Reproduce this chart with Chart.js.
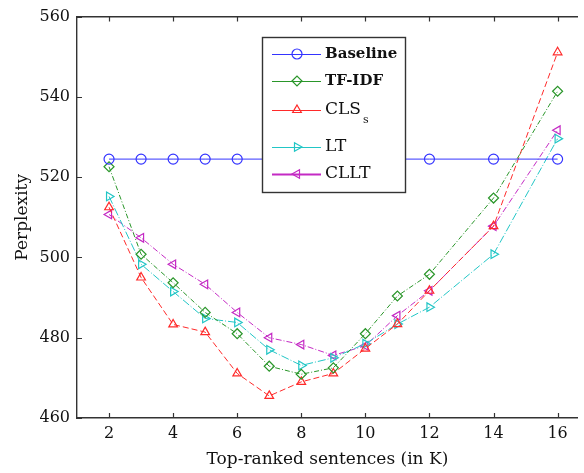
<!DOCTYPE html>
<html>
<head>
<meta charset="utf-8">
<script src="https://cdn.jsdelivr.net/npm/chart.js@4/dist/chart.umd.min.js"></script>
<style>
html,body{margin:0;padding:0;background:#fff;overflow:hidden;}
#wrap{width:584px;height:473px;}
</style>
</head>
<body>
<div id="wrap"><canvas id="c" width="584" height="473"></canvas></div>
<script>
const xValues = [2, 3, 4, 5, 6, 7, 8, 9, 10, 11, 12, 14, 16];
const baselineVals = [524.5, 524.5, 524.5, 524.5, 524.5, 524.5, 524.5, 524.5, 524.5, 524.5, 524.5, 524.5, 524.5];
const tfidfVals = [522.6, 500.8, 493.7, 486.3, 481.0, 472.9, 470.9, 472.5, 481.0, 490.4, 495.8, 514.8, 541.4];
const clsVals = [512.5, 495.0, 483.3, 481.4, 471.1, 465.5, 469.0, 471.1, 477.3, 483.4, 491.7, 507.8, 551.1];
const ltVals = [515.2, 498.3, 491.5, 484.8, 483.8, 477.0, 473.1, 475.0, 478.5, 483.4, 487.6, 500.8, 529.6];
const clltVals = [510.7, 504.9, 498.3, 493.3, 486.3, 480.0, 478.3, 475.6, 478.0, 485.5, 491.7, 507.8, 531.7];
const xTicks = [2, 4, 6, 8, 10, 12, 14, 16];
const yTicks = [460, 480, 500, 520, 540, 560];
const seriesLabels = ['Baseline', 'TF-IDF', 'CLS', 'LT', 'CLLT'];

const SERIF = '"DejaVu Serif", "Liberation Serif", serif';
const pts = vals => xValues.map((x, i) => ({x: x, y: vals[i]}));

function ds(label, vals, color, style, rot, dash, extra) {
  return Object.assign({
    label: label, data: pts(vals), borderColor: color, borderWidth: 1,
    borderDash: dash, pointStyle: style, pointRotation: rot, pointRadius: 5,
    pointBorderColor: color, pointBackgroundColor: 'rgba(0,0,0,0)', pointBorderWidth: 1.2,
    fill: false, tension: 0, pointHoverRadius: 5
  }, extra || {});
}

const datasets = [
  ds(seriesLabels[0], baselineVals, '#3434ff', 'circle', 0, [], {bold: true}),
  ds(seriesLabels[1], tfidfVals, '#2a962a', 'rectRot', 0, [5, 2, 1, 2], {bold: true}),
  ds(seriesLabels[2], clsVals, '#ff2a2a', 'triangle', 0, [6, 3], {sub: 's'}),
  ds(seriesLabels[3], ltVals, '#22c6c6', 'triangle', 90, [8, 2, 1, 2]),
  ds(seriesLabels[4], clltVals, '#c42ac4', 'triangle', -90, [6, 2, 1, 2], {legendWidth: 2.2})
];

const tickPlugin = {
  id: 'inTicks',
  afterDatasetsDraw(chart) {
    const ctx = chart.ctx, a = chart.chartArea;
    const xs = chart.scales.x, ys = chart.scales.y;
    ctx.save();
    ctx.strokeStyle = '#333';
    ctx.lineWidth = 1.2;
    ctx.beginPath();
    xTicks.forEach(v => {
      const px = Math.round(xs.getPixelForValue(v)) + 0.5;
      ctx.moveTo(px, a.bottom); ctx.lineTo(px, a.bottom - 5);
      ctx.moveTo(px, a.top); ctx.lineTo(px, a.top + 5);
    });
    yTicks.forEach(v => {
      const py = Math.round(ys.getPixelForValue(v)) + 0.5;
      ctx.moveTo(a.left, py); ctx.lineTo(a.left + 5, py);
    });
    ctx.stroke();
    ctx.restore();
  }
};

function drawMarker(ctx, d, x, y) {
  const H = Chart.helpers;
  ctx.save();
  ctx.strokeStyle = d.pointBorderColor;
  ctx.fillStyle = 'rgba(0,0,0,0)';
  ctx.lineWidth = d.pointBorderWidth;
  ctx.setLineDash([]);
  if (H && H.drawPoint) {
    H.drawPoint(ctx, {pointStyle: d.pointStyle, rotation: d.pointRotation, radius: d.pointRadius, borderWidth: d.pointBorderWidth}, x, y);
  } else {
    ctx.beginPath(); ctx.arc(x, y, d.pointRadius, 0, Math.PI * 2); ctx.stroke();
  }
  ctx.restore();
}

const legendPlugin = {
  id: 'boxLegend',
  afterDatasetsDraw(chart) {
    const ctx = chart.ctx;
    const box = {l: 262.5, t: 37.5, r: 405.5, b: 192.5};
    const rows = [54, 81, 110, 147, 174];
    ctx.save();
    ctx.fillStyle = '#fff';
    ctx.fillRect(box.l, box.t, box.r - box.l, box.b - box.t);
    ctx.strokeStyle = '#333';
    ctx.lineWidth = 1.4;
    ctx.strokeRect(box.l, box.t, box.r - box.l, box.b - box.t);
    chart.data.datasets.forEach((d, i) => {
      const y = rows[i];
      ctx.save();
      ctx.strokeStyle = d.borderColor;
      ctx.lineWidth = d.legendWidth || 1;
      ctx.setLineDash([]);
      ctx.beginPath(); ctx.moveTo(272, y + 0.5); ctx.lineTo(321, y + 0.5); ctx.stroke();
      ctx.restore();
      drawMarker(ctx, d, 297, y);
      ctx.fillStyle = '#111';
      ctx.textBaseline = 'middle';
      ctx.textAlign = 'left';
      ctx.font = d.bold ? 'bold 15px ' + SERIF : '17px ' + SERIF;
      ctx.fillText(d.label, 325, y);
      if (d.sub) {
        const w = ctx.measureText(d.label).width;
        ctx.font = '11px ' + SERIF;
        ctx.fillText(d.sub, 325 + w + 2, y + 10);
      }
    });
    ctx.restore();
  }
};

new Chart(document.getElementById('c'), {
  type: 'line',
  data: {datasets: datasets},
  options: {
    responsive: false,
    animation: false,
    events: [],
    layout: {padding: 0},
    plugins: {legend: {display: false}, tooltip: {enabled: false}, title: {display: false}},
    scales: {
      x: {
        type: 'linear', position: 'bottom', min: 1, max: 16.63,
        afterBuildTicks: s => { s.ticks = xTicks.map(v => ({value: v})); },
        afterFit: s => { s.height = 55; },
        grid: {drawOnChartArea: false, drawTicks: false},
        border: {display: true, color: '#333', width: 1.4},
        ticks: {padding: 6, color: '#111', font: {family: SERIF, size: 16}, maxRotation: 0, autoSkip: false},
        title: {display: true, text: 'Top-ranked sentences (in K)', color: '#111', font: {family: SERIF, size: 17}, padding: {top: 0, bottom: 3}}
      },
      x2: {
        type: 'linear', position: 'top', min: 1, max: 16.63,
        afterBuildTicks: s => { s.ticks = xTicks.map(v => ({value: v})); },
        afterFit: s => { s.height = 14; },
        grid: {drawOnChartArea: false, drawTicks: false},
        border: {display: true, color: '#333', width: 1.4},
        ticks: {display: false}
      },
      y: {
        type: 'linear', position: 'left', min: 460, max: 560,
        afterBuildTicks: s => { s.ticks = yTicks.map(v => ({value: v})); },
        afterFit: s => { s.width = 77; },
        grid: {drawOnChartArea: false, drawTicks: false},
        border: {display: true, color: '#333', width: 1.4},
        ticks: {padding: 7, color: '#111', font: {family: SERIF, size: 16}},
        title: {display: true, text: 'Perplexity', color: '#111', font: {family: SERIF, size: 17}, padding: 12}
      }
    }
  },
  plugins: [tickPlugin, legendPlugin]
});
</script>
</body>
</html>
